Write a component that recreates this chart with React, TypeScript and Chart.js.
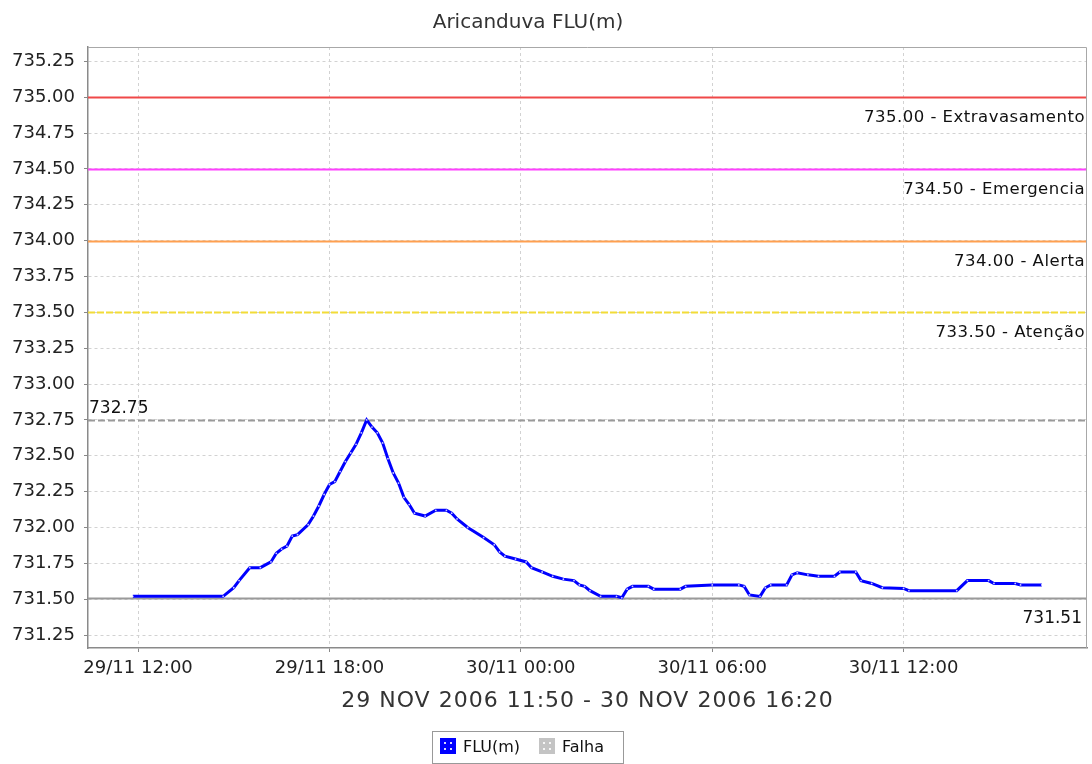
import React, { useEffect, useRef } from "react";
import { Chart, registerables } from "chart.js";

Chart.register(...registerables);

// ---------- data ----------
const chartTitle = "Aricanduva FLU(m)";
const rangeLabel = "29 NOV 2006 11:50 - 30 NOV 2006 16:20";

const times = [
  "29/11 11:50", "29/11 14:40", "29/11 15:00", "29/11 15:10", "29/11 15:30", "29/11 15:50",
  "29/11 16:10", "29/11 16:20", "29/11 16:30", "29/11 16:40", "29/11 16:50", "29/11 17:00",
  "29/11 17:20", "29/11 17:30", "29/11 17:40", "29/11 17:50", "29/11 18:00", "29/11 18:10",
  "29/11 18:20", "29/11 18:30", "29/11 18:40", "29/11 18:50", "29/11 19:00", "29/11 19:10",
  "29/11 19:20", "29/11 19:30", "29/11 19:40", "29/11 19:50", "29/11 20:00", "29/11 20:10",
  "29/11 20:20", "29/11 20:30", "29/11 20:40", "29/11 21:00", "29/11 21:20", "29/11 21:40",
  "29/11 21:50", "29/11 22:00", "29/11 22:20", "29/11 22:50", "29/11 23:10", "29/11 23:20",
  "29/11 23:30", "29/11 23:50", "30/11 00:10", "30/11 00:20", "30/11 00:40", "30/11 01:00",
  "30/11 01:20", "30/11 01:40", "30/11 01:50", "30/11 02:00", "30/11 02:10", "30/11 02:30",
  "30/11 03:00", "30/11 03:10", "30/11 03:20", "30/11 03:30", "30/11 04:00", "30/11 04:10",
  "30/11 05:00", "30/11 05:10", "30/11 06:00", "30/11 06:50", "30/11 07:00", "30/11 07:10",
  "30/11 07:30", "30/11 07:40", "30/11 07:50", "30/11 08:20", "30/11 08:30", "30/11 08:40",
  "30/11 09:00", "30/11 09:20", "30/11 09:50", "30/11 10:00", "30/11 10:30", "30/11 10:40",
  "30/11 11:00", "30/11 11:20", "30/11 12:00", "30/11 12:10", "30/11 13:40", "30/11 14:00",
  "30/11 14:40", "30/11 14:50", "30/11 15:30", "30/11 15:40", "30/11 16:20",
];

const fluValues = [
  731.52, 731.52, 731.58, 731.63, 731.72, 731.72,
  731.76, 731.82, 731.85, 731.87, 731.94, 731.95,
  732.02, 732.08, 732.15, 732.23, 732.30, 732.32,
  732.39, 732.46, 732.52, 732.58, 732.66, 732.75,
  732.70, 732.66, 732.59, 732.48, 732.38, 732.31,
  732.21, 732.16, 732.10, 732.08, 732.12, 732.12,
  732.10, 732.06, 732.00, 731.93, 731.88, 731.83,
  731.80, 731.78, 731.76, 731.72, 731.69, 731.66,
  731.64, 731.63, 731.60, 731.59, 731.56, 731.52,
  731.52, 731.51, 731.57, 731.59, 731.59, 731.57,
  731.57, 731.59, 731.60, 731.60, 731.59, 731.53,
  731.52, 731.58, 731.60, 731.60, 731.67, 731.685,
  731.67, 731.66, 731.66, 731.69, 731.69, 731.63,
  731.61, 731.58, 731.575, 731.56, 731.56, 731.63,
  731.63, 731.61, 731.61, 731.60, 731.60,
];

const xTickHours = [12, 18, 24, 30, 36];
const xTickLabels = ["29/11 12:00", "29/11 18:00", "30/11 00:00", "30/11 06:00", "30/11 12:00"];
const yTickValues = [731.25, 731.5, 731.75, 732.0, 732.25, 732.5, 732.75, 733.0, 733.25, 733.5, 733.75, 734.0, 734.25, 734.5, 734.75, 735.0, 735.25];

const thresholdValues = [735.0, 734.5, 734.0, 733.5];
const thresholdNames = ["Extravasamento", "Emergencia", "Alerta", "Atenção"];
const thresholdColors = ["#f04848", "#ff40ff", "#ffa050", "#f2dc38"];

const peakValue = 732.75;
const lowValue = 731.51;

const legendLabels = ["FLU(m)", "Falha"];
const legendColors = ["#0000ff", "#c4c4c4"];

const xRange = [10.43, 41.75];
const yRange = [731.16, 735.35];

// ---------- helpers ----------
function toHours(label: string): number {
  const [day, hm] = label.split(" ");
  const d = parseInt(day.split("/")[0], 10);
  const [h, m] = hm.split(":").map((s) => parseInt(s, 10));
  return (d - 29) * 24 + h + m / 60;
}

const FONT = '"DejaVu Sans", sans-serif';

const overlayPlugin = {
  id: "overlay",
  beforeDatasetsDraw(chart: any) {
    const { ctx, chartArea: a, scales } = chart;
    const y = scales.y;
    ctx.save();
    // threshold markers
    thresholdValues.forEach((v, i) => {
      const py = Math.round(y.getPixelForValue(v)) + 0.5;
      ctx.beginPath();
      ctx.strokeStyle = thresholdColors[i];
      ctx.lineWidth = 2;
      ctx.setLineDash(i === 3 ? [7, 2] : []);
      ctx.moveTo(a.left, py);
      ctx.lineTo(a.right, py);
      ctx.stroke();
      ctx.setLineDash([]);
      ctx.fillStyle = "#111";
      ctx.font = `16.5px ${FONT}`;
      ctx.textAlign = "right";
      ctx.textBaseline = "alphabetic";
      (ctx as any).letterSpacing = "0.5px";
      ctx.fillText(`${v.toFixed(2)} - ${thresholdNames[i]}`, a.right - 2, py + 24);
      (ctx as any).letterSpacing = "0px";
    });
    // peak line (dashed gray)
    const pk = Math.round(y.getPixelForValue(peakValue)) + 0.5;
    ctx.beginPath();
    ctx.strokeStyle = "#9a9a9a";
    ctx.lineWidth = 2;
    ctx.setLineDash([7, 3]);
    ctx.moveTo(a.left, pk);
    ctx.lineTo(a.right, pk);
    ctx.stroke();
    ctx.setLineDash([]);
    ctx.fillStyle = "#111";
    ctx.font = `17px ${FONT}`;
    ctx.textAlign = "left";
    ctx.fillText(peakValue.toFixed(2), a.left + 1, pk - 8);
    // low line (solid gray)
    const lw = Math.round(y.getPixelForValue(lowValue)) + 0.5;
    ctx.beginPath();
    ctx.strokeStyle = "#9a9a9a";
    ctx.lineWidth = 2;
    ctx.moveTo(a.left, lw);
    ctx.lineTo(a.right, lw);
    ctx.stroke();
    ctx.textAlign = "right";
    ctx.fillText(lowValue.toFixed(2), a.right - 5, lw + 24);
    ctx.restore();
  },
  afterDraw(chart: any) {
    const { ctx, chartArea: a } = chart;
    ctx.save();
    // plot outline top/right
    ctx.strokeStyle = "#a8a8a8";
    ctx.lineWidth = 1;
    ctx.beginPath();
    ctx.moveTo(a.left, a.top + 0.5);
    ctx.lineTo(a.right - 0.5, a.top + 0.5);
    ctx.lineTo(a.right - 0.5, a.bottom);
    ctx.stroke();
    // title
    ctx.fillStyle = "#333";
    ctx.font = `20px ${FONT}`;
    ctx.textAlign = "center";
    ctx.textBaseline = "alphabetic";
    ctx.fillText(chartTitle, 528, 28);
    // x-axis range label
    ctx.font = `22px ${FONT}`;
    (ctx as any).letterSpacing = "1px";
    ctx.fillText(rangeLabel, (a.left + a.right) / 2, 707);
    (ctx as any).letterSpacing = "0px";
    // legend
    const bx = 432, by = 731, bw = 191, bh = 32;
    ctx.strokeStyle = "#999";
    ctx.lineWidth = 1;
    ctx.strokeRect(bx + 0.5, by + 0.5, bw, bh);
    ctx.font = `16px ${FONT}`;
    ctx.textAlign = "left";
    ctx.fillStyle = "#111";
    const itemX = [440, 539];
    legendLabels.forEach((lab, i) => {
      const sx = itemX[i], sy = 738;
      ctx.fillStyle = legendColors[i];
      ctx.fillRect(sx, sy, 16, 16);
      ctx.fillStyle = "rgba(255,255,255,0.85)";
      [[4, 4], [10, 4], [4, 10], [10, 10]].forEach(([dx, dy]) => ctx.fillRect(sx + dx, sy + dy, 2, 2));
      ctx.fillStyle = "#111";
      ctx.fillText(lab, sx + 23, 752);
    });
    ctx.restore();
  },
};

export default function App() {
  const canvasRef = useRef<HTMLCanvasElement | null>(null);

  useEffect(() => {
    if (!canvasRef.current) return;
    const points = times.map((t, i) => ({ x: toHours(t), y: fluValues[i] }));
    const chart = new Chart(canvasRef.current, {
      type: "line",
      data: {
        datasets: [
          {
            label: legendLabels[0],
            data: points,
            borderColor: legendColors[0],
            backgroundColor: legendColors[0],
            borderWidth: 3,
            pointRadius: 0.9,
            pointBorderWidth: 0,
            pointBackgroundColor: "rgba(255,255,255,0.8)",
            tension: 0,
          },
        ],
      },
      options: {
        responsive: false,
        animation: false,
        devicePixelRatio: 1,
        layout: { padding: { top: 47, right: 5, left: 0, bottom: 0 } },
        plugins: {
          legend: { display: false },
          title: { display: false },
          tooltip: { enabled: false },
        },
        scales: {
          x: {
            type: "linear",
            min: xRange[0],
            max: xRange[1],
            afterFit: (s: any) => {
              s.height = 116;
            },
            afterBuildTicks: (s: any) => {
              s.ticks = xTickHours.map((v) => ({ value: v }));
            },
            grid: {
              color: "#d2d2d2",
              tickColor: "#888",
              tickLength: 4,
              lineWidth: 1,
            },
            border: { display: true, color: "#8a8a8a", width: 1.5, dash: [3, 3] },
            ticks: {
              padding: 6,
              maxRotation: 0,
              autoSkip: false,
              color: "#222",
              font: { family: FONT, size: 18 },
              callback: (_v: any, i: number) => xTickLabels[i],
            },
          },
          y: {
            type: "linear",
            min: yRange[0],
            max: yRange[1],
            afterFit: (s: any) => {
              s.width = 88;
            },
            afterBuildTicks: (s: any) => {
              s.ticks = yTickValues.map((v) => ({ value: v }));
            },
            grid: {
              color: "#d2d2d2",
              tickColor: "#888",
              tickLength: 4,
              lineWidth: 1,
            },
            border: { display: true, color: "#8a8a8a", width: 1.5, dash: [3, 3] },
            ticks: {
              padding: 9,
              color: "#222",
              font: { family: FONT, size: 18 },
              callback: (v: any) => Number(v).toFixed(2),
            },
          },
        },
      },
      plugins: [overlayPlugin],
    } as any);
    return () => chart.destroy();
  }, []);

  return (
    <div style={{ position: "absolute", left: 0, top: 0, width: 1092, height: 764, background: "#fff" }}>
      <canvas ref={canvasRef} width={1092} height={764} style={{ display: "block" }} />
    </div>
  );
}
